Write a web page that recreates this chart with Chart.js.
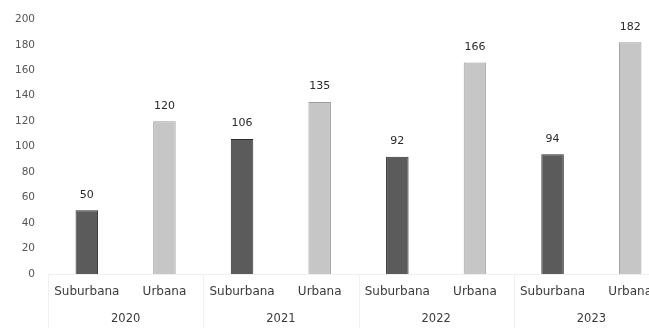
<!DOCTYPE html>
<html>
<head>
<meta charset="utf-8">
<script src="https://cdn.jsdelivr.net/npm/chart.js@4"></script>
<style>
  body { margin: 0; background: #fff; overflow: hidden; }
  #wrap { width: 672px; height: 328px; }
</style>
</head>
<body>
<div id="wrap"><canvas id="chart" width="672" height="328"></canvas></div>
<script>
// data
const years = ['2020', '2021', '2022', '2023'];
const areaTypes = ['Suburbana', 'Urbana'];
const suburbana = [50, 106, 92, 94];
const urbana = [120, 135, 166, 182];
const yMax = 200;
const yStep = 20;

// interleave: Suburbana, Urbana for each year
const labels = [];
const values = [];
const fills = [];
const borders = [];
years.forEach((y, i) => {
  labels.push(areaTypes[0], areaTypes[1]);
  values.push(suburbana[i], urbana[i]);
  fills.push('#5b5b5b', '#c6c6c6');
  borders.push('#2e2e2e', '#9c9c9c');
});

// value labels over bars
const valueLabels = {
  id: 'valueLabels',
  afterDatasetsDraw(chart) {
    const ctx = chart.ctx;
    const meta = chart.getDatasetMeta(0);
    ctx.save();
    ctx.font = '11px "DejaVu Sans"';
    ctx.fillStyle = '#2a2a2a';
    ctx.textAlign = 'center';
    ctx.textBaseline = 'bottom';
    meta.data.forEach((bar, i) => {
      ctx.fillText(String(values[i]), bar.x, bar.y - 10);
    });
    ctx.restore();
  }
};

// faint separators between year groups, below the axis
const groupLines = {
  id: 'groupLines',
  afterDraw(chart) {
    const x = chart.scales.x;
    const ctx = chart.ctx;
    ctx.save();
    ctx.strokeStyle = '#f0f0f0';
    ctx.lineWidth = 1;
    for (let g = 0; g <= years.length; g++) {
      const px = Math.round(x.getPixelForValue(g * 2 - 0.5)) + 0.5;
      ctx.beginPath();
      ctx.moveTo(px, chart.chartArea.bottom);
      ctx.lineTo(px, chart.height);
      ctx.stroke();
    }
    ctx.restore();
  }
};

new Chart(document.getElementById('chart'), {
  type: 'bar',
  data: {
    labels: labels,
    datasets: [{
      data: values,
      backgroundColor: fills,
      borderColor: borders,
      borderWidth: 1,
      categoryPercentage: 1,
      barPercentage: 0.29
    }]
  },
  options: {
    responsive: false,
    animation: false,
    devicePixelRatio: 1,
    layout: { padding: { top: 15, right: 3, left: 0, bottom: 0 } },
    plugins: {
      legend: { display: false },
      tooltip: { enabled: false }
    },
    scales: {
      x: {
        grid: { display: false, drawTicks: false },
        border: { display: true, color: '#f0f0f0' },
        ticks: {
          padding: 11,
          maxRotation: 0,
          autoSkip: false,
          color: '#3a3a3a',
          font: { family: 'DejaVu Sans', size: 12 }
        },
        afterFit(s) { s.height = 32; }
      },
      x2: {
        type: 'category',
        labels: years,
        position: 'bottom',
        offset: true,
        grid: { display: false, drawTicks: false },
        border: { display: false },
        ticks: {
          padding: 6,
          color: '#3a3a3a',
          font: { family: 'DejaVu Sans', size: 11.5 }
        },
        afterFit(s) { s.height = 22; }
      },
      y: {
        min: 0,
        max: yMax,
        grid: { display: false, drawTicks: false },
        border: { display: false },
        ticks: {
          stepSize: yStep,
          padding: 13,
          color: '#555555',
          font: { family: 'DejaVu Sans', size: 10.5 }
        },
        afterFit(s) { s.width = 48; }
      }
    }
  },
  plugins: [valueLabels, groupLines]
});
</script>
</body>
</html>
